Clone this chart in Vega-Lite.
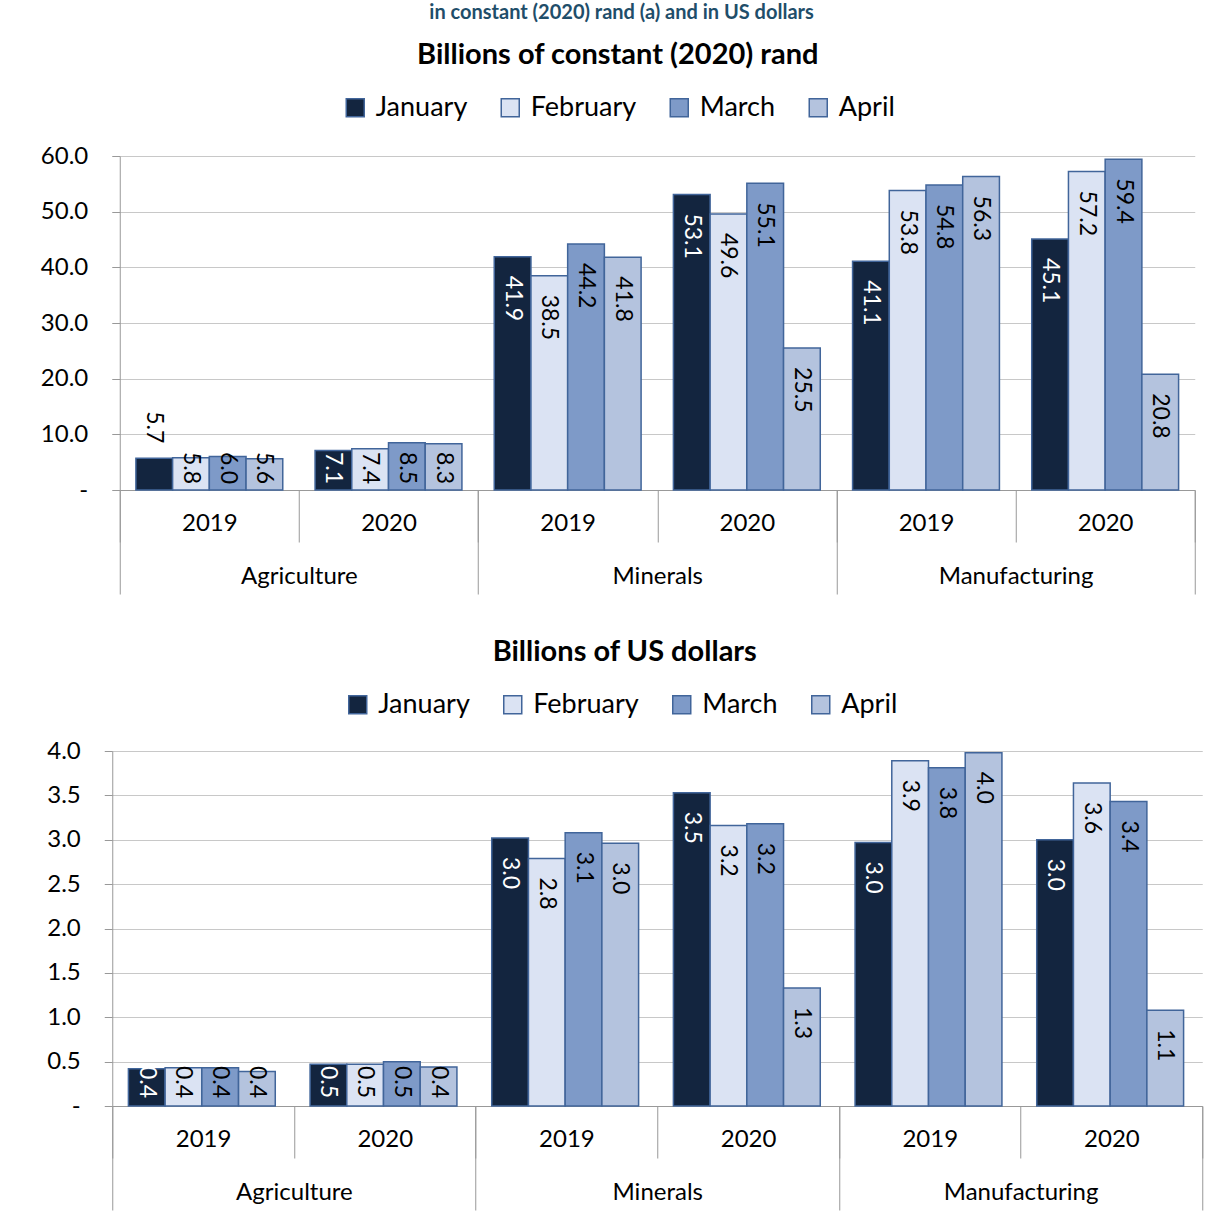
{
  "$schema": "https://vega.github.io/schema/vega-lite/v6.json",
  "background": "white",
  "padding": {"left": 40, "top": 3, "right": 5, "bottom": 0},
  "title": {"text": "in constant (2020) rand (a) and in US dollars", "fontSize": 20, "fontWeight": "bold", "color": "#1f4e6a", "anchor": "middle", "offset": 18, "frame": "bounds"},
  "config": {
    "font": "Lato",
    "view": {"stroke": null},
    "title": {"fontSize": 29, "fontWeight": "bold", "color": "black", "anchor": "middle", "frame": "bounds"},
    "axis": {"labelFont": "Lato", "labelColor": "black", "domainColor": "#999999", "tickColor": "#999999", "gridColor": "#c8c8c8"}
  },
  "datasets": {
    "rand": [
      {"cat": "Agriculture|2019", "sector": "Agriculture", "year": "2019", "month": "January", "value": 5.7},
      {"cat": "Agriculture|2019", "sector": "Agriculture", "year": "2019", "month": "February", "value": 5.8},
      {"cat": "Agriculture|2019", "sector": "Agriculture", "year": "2019", "month": "March", "value": 6.0},
      {"cat": "Agriculture|2019", "sector": "Agriculture", "year": "2019", "month": "April", "value": 5.6},
      {"cat": "Agriculture|2020", "sector": "Agriculture", "year": "2020", "month": "January", "value": 7.1},
      {"cat": "Agriculture|2020", "sector": "Agriculture", "year": "2020", "month": "February", "value": 7.4},
      {"cat": "Agriculture|2020", "sector": "Agriculture", "year": "2020", "month": "March", "value": 8.5},
      {"cat": "Agriculture|2020", "sector": "Agriculture", "year": "2020", "month": "April", "value": 8.3},
      {"cat": "Minerals|2019", "sector": "Minerals", "year": "2019", "month": "January", "value": 41.9},
      {"cat": "Minerals|2019", "sector": "Minerals", "year": "2019", "month": "February", "value": 38.5},
      {"cat": "Minerals|2019", "sector": "Minerals", "year": "2019", "month": "March", "value": 44.2},
      {"cat": "Minerals|2019", "sector": "Minerals", "year": "2019", "month": "April", "value": 41.8},
      {"cat": "Minerals|2020", "sector": "Minerals", "year": "2020", "month": "January", "value": 53.1},
      {"cat": "Minerals|2020", "sector": "Minerals", "year": "2020", "month": "February", "value": 49.6},
      {"cat": "Minerals|2020", "sector": "Minerals", "year": "2020", "month": "March", "value": 55.1},
      {"cat": "Minerals|2020", "sector": "Minerals", "year": "2020", "month": "April", "value": 25.5},
      {"cat": "Manufacturing|2019", "sector": "Manufacturing", "year": "2019", "month": "January", "value": 41.1},
      {"cat": "Manufacturing|2019", "sector": "Manufacturing", "year": "2019", "month": "February", "value": 53.8},
      {"cat": "Manufacturing|2019", "sector": "Manufacturing", "year": "2019", "month": "March", "value": 54.8},
      {"cat": "Manufacturing|2019", "sector": "Manufacturing", "year": "2019", "month": "April", "value": 56.3},
      {"cat": "Manufacturing|2020", "sector": "Manufacturing", "year": "2020", "month": "January", "value": 45.1},
      {"cat": "Manufacturing|2020", "sector": "Manufacturing", "year": "2020", "month": "February", "value": 57.2},
      {"cat": "Manufacturing|2020", "sector": "Manufacturing", "year": "2020", "month": "March", "value": 59.4},
      {"cat": "Manufacturing|2020", "sector": "Manufacturing", "year": "2020", "month": "April", "value": 20.8}
    ],
    "usd": [
      {"cat": "Agriculture|2019", "sector": "Agriculture", "year": "2019", "month": "January", "value": 0.42},
      {"cat": "Agriculture|2019", "sector": "Agriculture", "year": "2019", "month": "February", "value": 0.43},
      {"cat": "Agriculture|2019", "sector": "Agriculture", "year": "2019", "month": "March", "value": 0.43},
      {"cat": "Agriculture|2019", "sector": "Agriculture", "year": "2019", "month": "April", "value": 0.39},
      {"cat": "Agriculture|2020", "sector": "Agriculture", "year": "2020", "month": "January", "value": 0.47},
      {"cat": "Agriculture|2020", "sector": "Agriculture", "year": "2020", "month": "February", "value": 0.47},
      {"cat": "Agriculture|2020", "sector": "Agriculture", "year": "2020", "month": "March", "value": 0.5},
      {"cat": "Agriculture|2020", "sector": "Agriculture", "year": "2020", "month": "April", "value": 0.44},
      {"cat": "Minerals|2019", "sector": "Minerals", "year": "2019", "month": "January", "value": 3.02},
      {"cat": "Minerals|2019", "sector": "Minerals", "year": "2019", "month": "February", "value": 2.79},
      {"cat": "Minerals|2019", "sector": "Minerals", "year": "2019", "month": "March", "value": 3.08},
      {"cat": "Minerals|2019", "sector": "Minerals", "year": "2019", "month": "April", "value": 2.96},
      {"cat": "Minerals|2020", "sector": "Minerals", "year": "2020", "month": "January", "value": 3.53},
      {"cat": "Minerals|2020", "sector": "Minerals", "year": "2020", "month": "February", "value": 3.16},
      {"cat": "Minerals|2020", "sector": "Minerals", "year": "2020", "month": "March", "value": 3.18},
      {"cat": "Minerals|2020", "sector": "Minerals", "year": "2020", "month": "April", "value": 1.33},
      {"cat": "Manufacturing|2019", "sector": "Manufacturing", "year": "2019", "month": "January", "value": 2.97},
      {"cat": "Manufacturing|2019", "sector": "Manufacturing", "year": "2019", "month": "February", "value": 3.89},
      {"cat": "Manufacturing|2019", "sector": "Manufacturing", "year": "2019", "month": "March", "value": 3.81},
      {"cat": "Manufacturing|2019", "sector": "Manufacturing", "year": "2019", "month": "April", "value": 3.98},
      {"cat": "Manufacturing|2020", "sector": "Manufacturing", "year": "2020", "month": "January", "value": 3.0},
      {"cat": "Manufacturing|2020", "sector": "Manufacturing", "year": "2020", "month": "February", "value": 3.64},
      {"cat": "Manufacturing|2020", "sector": "Manufacturing", "year": "2020", "month": "March", "value": 3.43},
      {"cat": "Manufacturing|2020", "sector": "Manufacturing", "year": "2020", "month": "April", "value": 1.08}
    ]
  },
  "concat": [
    {
      "title": {"text": "Billions of constant (2020) rand", "offset": 24},
      "width": 1075,
      "height": 334,
      "data": {"name": "rand"},
      "layer": [
        {
          "encoding": {
            "x": {"field": "cat", "type": "nominal", "sort": ["Agriculture|2019", "Agriculture|2020", "Minerals|2019", "Minerals|2020", "Manufacturing|2019", "Manufacturing|2020"],
              "scale": {"paddingInner": 0, "paddingOuter": 0},
              "axis": {"orient": "bottom", "title": null, "labelAngle": 0, "labelExpr": "split(datum.label, '|')[1]", "tickBand": "extent", "tickSize": 52, "labelPadding": -31, "labelFontSize": 24, "grid": false}},
            "xOffset": {"field": "month", "type": "nominal", "sort": ["January", "February", "March", "April"], "scale": {"paddingInner": 0, "paddingOuter": 0.44}},
            "y": {"field": "value", "type": "quantitative", "scale": {"domain": [0, 60], "nice": false},
              "axis": {"title": null, "values": [0, 10, 20, 30, 40, 50, 60], "labelExpr": "datum.value == 0 ? '-' : format(datum.value, '.1f')", "tickSize": 8, "labelPadding": 24, "labelFontSize": 24}}
          },
          "layer": [
            {
              "mark": {"type": "bar", "stroke": "#41659a", "strokeWidth": 1.5},
              "encoding": {
                "color": {"field": "month", "type": "nominal", "sort": ["January", "February", "March", "April"],
                  "scale": {"domain": ["January", "February", "March", "April"], "range": ["#13253f", "#dbe3f3", "#7e9ac8", "#b4c3de"]},
                  "legend": {"title": null, "orient": "none", "direction": "horizontal", "legendX": 222, "legendY": -62, "symbolType": "square", "symbolSize": 324, "symbolStrokeColor": "#41659a", "symbolStrokeWidth": 1.5, "symbolOpacity": 1, "labelFontSize": 27, "labelFont": "Lato", "labelColor": "black", "labelOffset": 7, "columnPadding": 29}}
              }
            },
            {
              "mark": {"type": "text", "angle": 90, "align": "left", "baseline": "middle", "fontSize": 23,
                "dx": {"expr": "datum.month === 'January' && datum.value < 6 ? -47 : min(19, datum.value * 5.567 - 38)"}},
              "encoding": {
                "text": {"field": "value", "type": "quantitative", "format": ".1f"},
                "color": {"condition": {"test": "datum.month === 'January' && datum.value > 6", "value": "white"}, "value": "black"}
              }
            }
          ]
        },
        {
          "mark": {"type": "tick", "opacity": 0},
          "encoding": {
            "x": {"field": "sector", "type": "nominal", "sort": ["Agriculture", "Minerals", "Manufacturing"],
              "scale": {"paddingInner": 0, "paddingOuter": 0},
              "axis": {"orient": "bottom", "title": null, "labelAngle": 0, "tickBand": "extent", "tickSize": 104, "labelPadding": -30, "labelFontSize": 24, "domain": false, "grid": false}}
          }
        }
      ],
      "resolve": {"scale": {"x": "independent"}}
    },
    {
      "title": {"text": "Billions of US dollars", "offset": 24},
      "width": 1090,
      "height": 355,
      "data": {"name": "usd"},
      "layer": [
        {
          "encoding": {
            "x": {"field": "cat", "type": "nominal", "sort": ["Agriculture|2019", "Agriculture|2020", "Minerals|2019", "Minerals|2020", "Manufacturing|2019", "Manufacturing|2020"],
              "scale": {"paddingInner": 0, "paddingOuter": 0},
              "axis": {"orient": "bottom", "title": null, "labelAngle": 0, "labelExpr": "split(datum.label, '|')[1]", "tickBand": "extent", "tickSize": 52, "labelPadding": -31, "labelFontSize": 24, "grid": false}},
            "xOffset": {"field": "month", "type": "nominal", "sort": ["January", "February", "March", "April"], "scale": {"paddingInner": 0, "paddingOuter": 0.44}},
            "y": {"field": "value", "type": "quantitative", "scale": {"domain": [0, 4], "nice": false},
              "axis": {"title": null, "values": [0, 0.5, 1, 1.5, 2, 2.5, 3, 3.5, 4], "labelExpr": "datum.value == 0 ? '-' : format(datum.value, '.1f')", "tickSize": 8, "labelPadding": 24, "labelFontSize": 24}}
          },
          "layer": [
            {
              "mark": {"type": "bar", "stroke": "#41659a", "strokeWidth": 1.5},
              "encoding": {
                "color": {"field": "month", "type": "nominal", "sort": ["January", "February", "March", "April"],
                  "scale": {"domain": ["January", "February", "March", "April"], "range": ["#13253f", "#dbe3f3", "#7e9ac8", "#b4c3de"]},
                  "legend": {"title": null, "orient": "none", "direction": "horizontal", "legendX": 232, "legendY": -60, "symbolType": "square", "symbolSize": 324, "symbolStrokeColor": "#41659a", "symbolStrokeWidth": 1.5, "symbolOpacity": 1, "labelFontSize": 27, "labelFont": "Lato", "labelColor": "black", "labelOffset": 7, "columnPadding": 29}}
              }
            },
            {
              "mark": {"type": "text", "angle": 90, "align": "left", "baseline": "middle", "fontSize": 23,
                "dx": {"expr": "min(19, datum.value * 88.75 - 40)"}},
              "encoding": {
                "text": {"field": "value", "type": "quantitative", "format": ".1f"},
                "color": {"condition": {"test": "datum.month === 'January'", "value": "white"}, "value": "black"}
              }
            }
          ]
        },
        {
          "mark": {"type": "tick", "opacity": 0},
          "encoding": {
            "x": {"field": "sector", "type": "nominal", "sort": ["Agriculture", "Minerals", "Manufacturing"],
              "scale": {"paddingInner": 0, "paddingOuter": 0},
              "axis": {"orient": "bottom", "title": null, "labelAngle": 0, "tickBand": "extent", "tickSize": 104, "labelPadding": -30, "labelFontSize": 24, "domain": false, "grid": false}}
          }
        }
      ],
      "resolve": {"scale": {"x": "independent"}}
    }
  ],
  "columns": 1,
  "center": true,
  "spacing": 43,
  "resolve": {"scale": {"color": "independent"}, "legend": {"color": "independent"}}
}
